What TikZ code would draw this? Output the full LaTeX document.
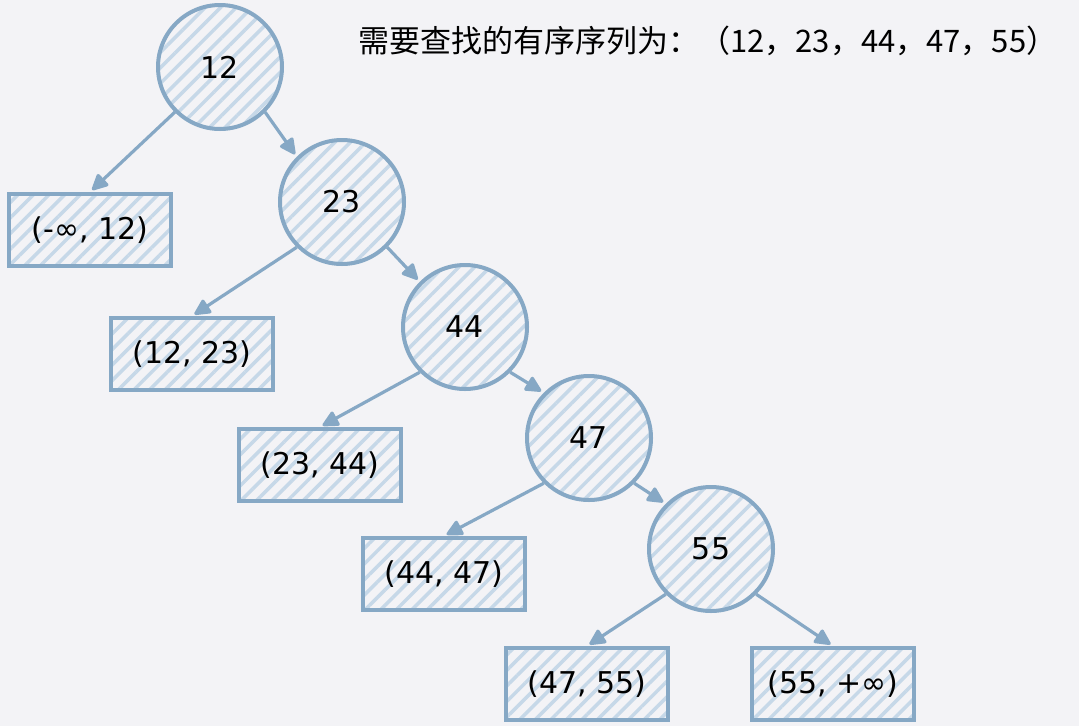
\documentclass[tikz,border=0pt]{standalone}
\usepackage{fontspec}
\setmainfont{DejaVu Sans}
\newfontfamily\cjkfont{Noto Sans CJK SC}
\usetikzlibrary{arrows.meta,patterns.meta}
\definecolor{paper}{HTML}{F3F3F6}
\definecolor{edge}{HTML}{86A8C5}
\definecolor{hatch}{HTML}{C6D8E8}

\begin{document}
\begin{tikzpicture}[
  x=1pt,y=-1pt,
  keynode/.style={circle,draw=edge,line width=4pt,minimum size=124pt,inner sep=0pt,
    pattern={Lines[angle=45,distance=11pt,line width=3.5pt]},pattern color=hatch,font=\fontsize{30}{32}\selectfont},
  interval/.style={rectangle,draw=edge,line width=4pt,minimum width=162pt,minimum height=72pt,inner sep=0pt,
    pattern={Lines[angle=45,distance=11pt,line width=3.5pt]},pattern color=hatch,font=\fontsize{30}{32}\selectfont},
  flow/.style={-{Triangle[length=18pt,width=17pt,round]},line width=3.2pt,draw=edge,shorten >=3pt}
]
\fill[paper] (0,0) rectangle (1079,726);
\useasboundingbox (0,0) rectangle (1079,726);
% keys of the ordered sequence
\node[keynode] (k12) at (220,67) {12};
\node[keynode] (k23) at (342,202) {23};
\node[keynode] (k44) at (465,327) {44};
\node[keynode] (k47) at (589,438) {47};
\node[keynode] (k55) at (711,549) {55};
% intervals between the keys
\node[interval] (r0) at (90,230) {(-∞, 12)};
\node[interval] (r1) at (192,354) {(12, 23)};
\node[interval] (r2) at (320,465) {(23, 44)};
\node[interval] (r3) at (444,574) {(44, 47)};
\node[interval] (r4) at (587,684) {(47, 55)};
\node[interval] (r5) at (833,684) {(55, +∞)};
\draw[flow] (k12.south west) -- (r0.north);
\draw[flow] (k12.south east) -- (k23.north west);
\draw[flow] (k23.south west) -- (r1.north);
\draw[flow] (k23.south east) -- (k44.north west);
\draw[flow] (k44.south west) -- (r2.north);
\draw[flow] (k44.south east) -- (k47.north west);
\draw[flow] (k47.south west) -- (r3.north);
\draw[flow] (k47.south east) -- (k55.north west);
\draw[flow] (k55.south west) -- (r4.north);
\draw[flow] (k55.south east) -- (r5.north);
\node[anchor=west,inner sep=0pt,font=\cjkfont\fontsize{31}{33}\selectfont] (title) at (358,41)
  {需要查找的有序序列为：（12，23，44，47，55）};
\end{tikzpicture}
\end{document}
